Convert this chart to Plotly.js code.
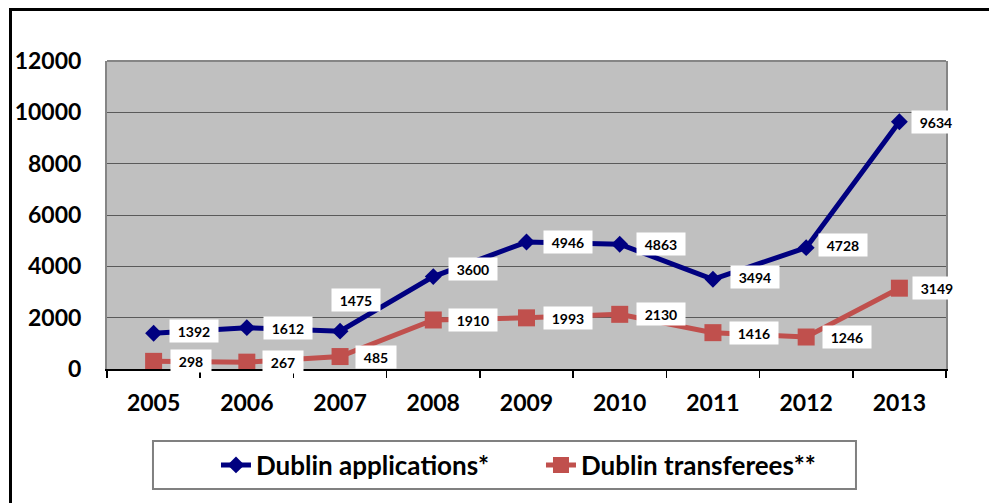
<!DOCTYPE html>
<html>
<head>
<meta charset="utf-8">
<script src="https://cdn.plot.ly/plotly-3.0.1.min.js"></script>
<style>
  html, body { margin: 0; padding: 0; background: #ffffff; }
  #wrap { position: relative; width: 989px; height: 503px; overflow: hidden; }
  #chart { position: absolute; left: 0; top: 0; width: 989px; height: 503px; }
  #frame { position: absolute; left: 9px; top: 8px; width: 990px; height: 510px;
           border-left: 3px solid #000; border-top: 3px solid #000; pointer-events: none; }
</style>
</head>
<body>
<div id="wrap">
  <div id="chart"></div>
  <div id="frame"></div>
</div>
<script>
// ---- data ----
var years = ['2005', '2006', '2007', '2008', '2009', '2010', '2011', '2012', '2013'];
var applications = [1392, 1612, 1475, 3600, 4946, 4863, 3494, 4728, 9634];
var transferees = [298, 267, 485, 1910, 1993, 2130, 1416, 1246, 3149];
var seriesNames = ['Dublin applications*', 'Dublin transferees**'];
var yTicks = [0, 2000, 4000, 6000, 8000, 10000, 12000];

// ---- styles ----
var FONT = 'Lato, "Open Sans", "Liberation Sans", sans-serif';
var BLUE = '#000080';
var RED = '#C0504D';

// label offsets (pixels) for data labels, per point
var appLabelShift = [[40, 2], [41, 0], [16, 31], [40, 8], [41, 0], [41, 0], [42, 2], [37, 3], [37, 0]];
var trLabelShift = [[37, 0], [36, 0], [36, 0], [40, 0], [41, 0], [41, 0], [41, 0], [41, 0], [38, 0]];

var traces = [
  {
    x: years, y: applications, name: seriesNames[0], type: 'scatter', mode: 'lines+markers',
    line: { color: BLUE, width: 5 },
    marker: { symbol: 'diamond', size: 13, color: BLUE }
  },
  {
    x: years, y: transferees, name: seriesNames[1], type: 'scatter', mode: 'lines+markers',
    line: { color: RED, width: 5 },
    marker: { symbol: 'square', size: 17, color: RED }
  }
];

function labels(vals, shifts) {
  return vals.map(function (v, i) {
    var t = String(v);
    return {
      x: i, y: v, xref: 'x', yref: 'y', text: t, showarrow: false,
      xshift: shifts[i][0], yshift: shifts[i][1],
      bgcolor: '#ffffff', borderpad: 3, width: t.length * 8 + 10, height: 16,
      font: { family: FONT, size: 14, color: '#000000', weight: 700 }
    };
  });
}

var annotations = labels(applications, appLabelShift).concat(labels(transferees, trLabelShift));

var layout = {
  width: 989, height: 503,
  margin: { l: 107, r: 43, t: 61, b: 134 },
  paper_bgcolor: '#ffffff',
  plot_bgcolor: '#c0c0c0',
  font: { family: FONT, color: '#000000' },
  showlegend: true,
  legend: {
    orientation: 'h', x: 0.1299, xanchor: 'left', y: -0.3117, yanchor: 'middle',
    bgcolor: 'rgba(0,0,0,0)', borderwidth: 0, entrywidth: 280,
    font: { family: FONT, size: 26, color: '#000000', weight: 700 }
  },
  xaxis: {
    type: 'category', range: [-0.5, years.length - 0.5], autorange: false,
    showgrid: false, zeroline: false,
    showline: true, linecolor: '#000000', linewidth: 2,
    ticks: 'outside', tickson: 'boundaries', ticklen: 7, tickwidth: 1.5, tickcolor: '#000000',
    ticklabelstandoff: 12, tickangle: 0,
    tickfont: { family: FONT, size: 23, color: '#000000', weight: 700 }
  },
  yaxis: {
    range: [0, 12000], autorange: false, tickvals: yTicks, ticktext: yTicks.map(String),
    showgrid: true, gridcolor: '#5a5a5a', gridwidth: 1, zeroline: false,
    showline: true, linecolor: '#858585', linewidth: 2, mirror: true,
    ticks: '', ticklabelstandoff: 19,
    tickfont: { family: FONT, size: 23, color: '#000000', weight: 700 }
  },
  shapes: [
    { type: 'line', xref: 'paper', yref: 'paper', x0: 0, x1: 1, y0: 1, y1: 1,
      line: { color: '#858585', width: 2 } },
    { type: 'rect', xref: 'paper', yref: 'paper', x0: 0.0548, x1: 0.8927, y0: -0.3896, y1: -0.2338,
      line: { color: '#808080', width: 2 }, fillcolor: 'rgba(0,0,0,0)' }
  ],
  annotations: annotations
};

Plotly.newPlot('chart', traces, layout, { displayModeBar: false, staticPlot: true });
</script>
</body>
</html>
